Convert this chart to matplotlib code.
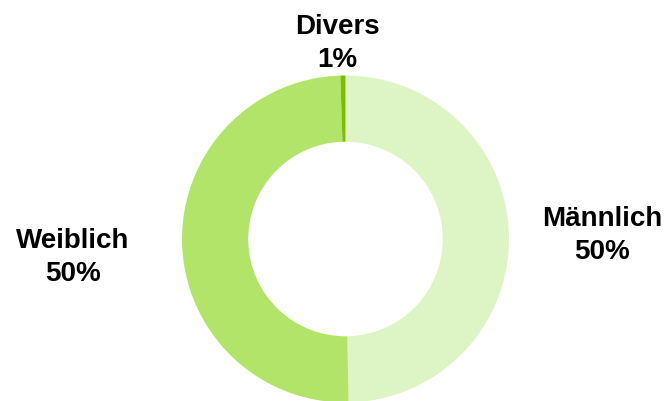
import matplotlib.pyplot as plt

labels = ["Männlich", "Weiblich", "Divers"]
values = [49.7, 49.8, 0.5]
pct_labels = ["50%", "50%", "1%"]
colors = ["#DDF5C4", "#B3E46A", "#7DBE00"]

W, H = 669, 401
cx, cy, R = 345.5, 239, 163.5

fig = plt.figure(figsize=(W / 100, H / 100), dpi=100)
ax = fig.add_axes([0, 0, 1, 1])
ax.pie(values, colors=colors, startangle=90, counterclock=False,
       radius=1, wedgeprops=dict(width=0.405, linewidth=0))
ax.set_xlim(-cx / R, (W - cx) / R)
ax.set_ylim(-(H - cy) / R, cy / R)
ax.set_aspect("auto")
ax.axis("off")

# label positions (last-line baseline), in radius units
pos = [(1.569, -0.122), (-1.666, -0.257), (-0.05, 1.052)]
for lab, pct, (x, y) in zip(labels, pct_labels, pos):
    ax.text(x, y, f"{lab}\n{pct}", ha="center", va="baseline",
            fontsize=20, fontweight="bold", family="Liberation Sans",
            linespacing=1.36, color="black")

plt.savefig("out.png", dpi=100)
